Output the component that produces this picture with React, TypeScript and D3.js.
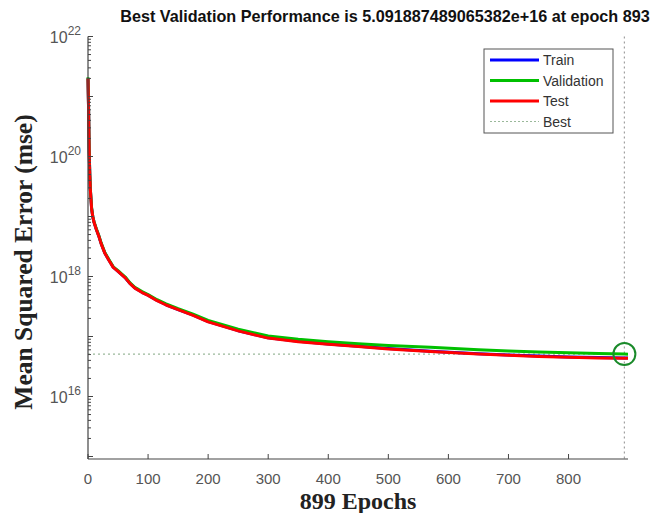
import React from "react";
import * as d3 from "d3";

const epochs = [0, 1, 2, 3, 4, 6, 8, 10, 14, 18, 22, 28, 35, 42, 50, 62, 70, 78, 90, 100, 115, 130, 150, 175, 200, 250, 300, 350, 400, 450, 500, 570, 650, 700, 750, 800, 850, 893, 899];
const validation = [2.1e21, 6e20, 1.2e20, 5e19, 2.8e19, 1.4e19, 1.0e19, 8.2e18, 6.2e18, 4.8e18, 3.6e18, 2.5e18, 1.9e18, 1.45e18, 1.25e18, 9.8e17, 7.8e17, 6.6e17, 5.6e17, 5.0e17, 4.1e17, 3.5e17, 2.9e17, 2.35e17, 1.85e17, 1.32e17, 1.02e17, 9.0e16, 8.2e16, 7.6e16, 7.1e16, 6.6e16, 6.0e16, 5.75e16, 5.5e16, 5.35e16, 5.2e16, 5.091887489065382e16, 5.08e16];
const test = [2.0e21, 5.8e20, 1.15e20, 4.8e19, 2.7e19, 1.35e19, 9.8e18, 8.0e18, 6.0e18, 4.7e18, 3.5e18, 2.45e18, 1.85e18, 1.42e18, 1.22e18, 9.5e17, 7.6e17, 6.4e17, 5.4e17, 4.85e17, 3.95e17, 3.35e17, 2.8e17, 2.25e17, 1.75e17, 1.24e17, 9.4e16, 8.2e16, 7.4e16, 6.8e16, 6.2e16, 5.6e16, 5.1e16, 4.85e16, 4.65e16, 4.5e16, 4.4e16, 4.33e16, 4.32e16];
const train = [2.02e21, 5.85e20, 1.16e20, 4.85e19, 2.72e19, 1.36e19, 9.85e18, 8.05e18, 6.05e18, 4.72e18, 3.52e18, 2.46e18, 1.86e18, 1.43e18, 1.22e18, 9.55e17, 7.65e17, 6.45e17, 5.45e17, 4.88e17, 3.98e17, 3.38e17, 2.82e17, 2.27e17, 1.77e17, 1.25e17, 9.5e16, 8.3e16, 7.5e16, 6.9e16, 6.3e16, 5.68e16, 5.17e16, 4.92e16, 4.71e16, 4.56e16, 4.46e16, 4.39e16, 4.38e16];

const xTicks = [0, 100, 200, 300, 400, 500, 600, 700, 800];
const yDecades = [16, 18, 20, 22];
const bestEpoch = 893;
const bestValue = 5.091887489065382e16;
const maxEpoch = 899;

const legendItems = [
  { label: "Train", color: "#0000ff", dash: "" },
  { label: "Validation", color: "#00c000", dash: "" },
  { label: "Test", color: "#ff0000", dash: "" },
  { label: "Best", color: "#9ab89a", dash: "2,2" },
];

export default function App() {
  const W = 656, H = 513;
  const left = 88, right = 628, top = 36.5, bottom = 459;
  const x = d3.scaleLinear().domain([0, maxEpoch]).range([left, right]);
  const yTopExp = 22;
  const yBotExp = 22 - (bottom - top) / 60;
  const y = d3.scaleLog().domain([Math.pow(10, yBotExp), Math.pow(10, yTopExp)]).range([bottom, top]);

  const mk = (vals: number[]) =>
    d3.line<number>().x((_, i) => x(epochs[i])).y((v) => y(v))(vals) || "";

  const minorTicks: number[] = [];
  for (let e = Math.floor(yBotExp); e < yTopExp; e++) {
    for (let m = 1; m <= 9; m++) {
      const v = m * Math.pow(10, e);
      const lv = Math.log10(v);
      if (lv >= yBotExp && lv <= yTopExp) minorTicks.push(v);
    }
  }
  minorTicks.push(Math.pow(10, 22));

  const axisColor = "#444";
  const labelColor = "#555";

  return (
    <svg width={W} height={H} style={{ position: "absolute", left: 0, top: 0, background: "#fff" }} xmlns="http://www.w3.org/2000/svg">
      <rect x={0} y={0} width={W} height={H} fill="#fff" />
      {/* title */}
      <text x={385} y={22} textAnchor="middle" fontFamily="Liberation Sans, Arial, sans-serif" fontWeight="bold" fontSize={16.2} fill="#111">
        Best Validation Performance is 5.091887489065382e+16 at epoch 893
      </text>

      {/* best lines */}
      <line x1={left} x2={right} y1={y(bestValue)} y2={y(bestValue)} stroke="#9ab89a" strokeWidth={1.2} strokeDasharray="2,3" />
      <line x1={x(bestEpoch)} x2={x(bestEpoch)} y1={top} y2={bottom} stroke="#a0a0a0" strokeWidth={1.2} strokeDasharray="2,3" />

      {/* curves */}
      <path d={mk(train)} fill="none" stroke="#0000ff" strokeWidth={3} strokeLinejoin="round" />
      <path d={mk(validation)} fill="none" stroke="#00c000" strokeWidth={3} strokeLinejoin="round" />
      <path d={mk(test)} fill="none" stroke="#ff0000" strokeWidth={3} strokeLinejoin="round" />

      {/* best circle */}
      <circle cx={x(bestEpoch)} cy={y(bestValue)} r={11} fill="none" stroke="#1a8a2a" strokeWidth={2} />

      {/* axes */}
      <line x1={left} x2={left} y1={top} y2={bottom} stroke={axisColor} strokeWidth={1.2} />
      <line x1={left} x2={right} y1={bottom} y2={bottom} stroke={axisColor} strokeWidth={1.2} />
      {minorTicks.map((v, i) => {
        const isMajor = Math.abs(Math.log10(v) - Math.round(Math.log10(v))) < 1e-9;
        return <line key={"mt" + i} x1={left} x2={left + (isMajor ? 5 : 3)} y1={y(v)} y2={y(v)} stroke={axisColor} strokeWidth={1} />;
      })}
      {xTicks.map((t) => (
        <g key={"xt" + t}>
          <line x1={x(t)} x2={x(t)} y1={bottom} y2={bottom - 5} stroke={axisColor} strokeWidth={1} />
          <text x={x(t)} y={484} textAnchor="middle" fontFamily="Liberation Sans, Arial, sans-serif" fontSize={15} fill={labelColor}>{t}</text>
        </g>
      ))}
      {yDecades.map((e) => (
        <text key={"yl" + e} x={81} y={y(Math.pow(10, e)) + 6} textAnchor="end" fontFamily="Liberation Sans, Arial, sans-serif" fontSize={16} fill={labelColor}>
          10<tspan dy={-8} fontSize={12}>{e}</tspan>
        </text>
      ))}

      {/* axis labels */}
      <text x={358} y={509} textAnchor="middle" fontFamily="Liberation Serif, Times New Roman, serif" fontWeight="bold" fontSize={24} fill="#222">899 Epochs</text>
      <text transform={`translate(32,262) rotate(-90)`} textAnchor="middle" fontFamily="Liberation Serif, Times New Roman, serif" fontWeight="bold" fontSize={25.5} fill="#222">Mean Squared Error (mse)</text>

      {/* legend */}
      <rect x={484} y={49} width={129} height={84} fill="#fff" stroke="#555" strokeWidth={1} />
      {legendItems.map((it, i) => {
        const ly = 60 + i * 20.5;
        return (
          <g key={it.label}>
            <line x1={490} x2={539} y1={ly} y2={ly} stroke={it.color} strokeWidth={it.dash ? 1.2 : 3} strokeDasharray={it.dash || undefined} />
            <text x={543} y={ly + 5} fontFamily="Liberation Sans, Arial, sans-serif" fontSize={14} fill="#333">{it.label}</text>
          </g>
        );
      })}
    </svg>
  );
}
